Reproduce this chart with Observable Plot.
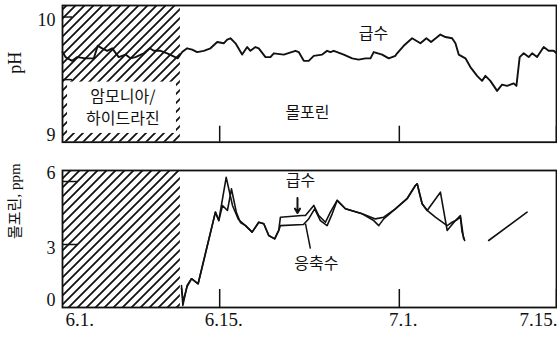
<!DOCTYPE html>
<html><head><meta charset="utf-8">
<script src="https://cdn.jsdelivr.net/npm/d3@7"></script>
<script src="https://cdn.jsdelivr.net/npm/@observablehq/plot@0.6"></script>
<style>
body{margin:0;background:#fff;}
#chart svg{display:block;overflow:visible;}
</style></head><body><div id="chart"></div>
<script>
// ---- data ----
const xTickDays = [0, 14, 30, 44];
const xTickLabels = ["6.1.", "6.15.", "7.1.", "7.15."];
const phTicks = [9, 10];
const phInnerTicks = [9.5, 10];
const ppmTicks = [0, 3, 6];
const ppmInnerTicks = [3, 6];
const treatmentStart = 0, treatmentEnd = 10.5; // ammonia/hydrazine period (days after 6.1.)

const phDays = [0,0.27,0.86,1.31,2.05,2.79,3.14,3.54,3.98,4.43,5.01,5.61,6.06,6.5,7.24,7.77,8.13,8.73,9.32,10.27,10.66,11.1,11.55,11.99,12.58,13.18,13.78,14.36,14.67,14.96,15.41,16,16.45,16.74,17.19,17.48,18.08,18.52,18.82,19.71,20.75,21.04,21.49,21.93,22.38,23.13,23.57,23.86,24.16,24.46,25.05,25.8,26.38,26.98,27.43,27.72,28.47,29.06,29.65,29.8,30.39,31.14,31.88,32.41,32.83,33.66,34.11,34.7,35,35.29,35.89,36.33,36.93,37.37,37.67,38.11,38.71,39.15,39.6,40.19,40.43,40.72,41.08,41.52,41.83,42.27,42.86,43.3,43.75,44];
const phValues = [9.72,9.68,9.65,9.68,9.67,9.67,9.77,9.75,9.73,9.75,9.68,9.70,9.67,9.68,9.71,9.75,9.73,9.73,9.71,9.67,9.72,9.75,9.74,9.72,9.73,9.75,9.80,9.79,9.82,9.83,9.79,9.70,9.76,9.73,9.76,9.75,9.68,9.68,9.71,9.70,9.73,9.72,9.65,9.65,9.69,9.70,9.73,9.72,9.73,9.72,9.70,9.67,9.66,9.67,9.67,9.72,9.70,9.67,9.69,9.71,9.77,9.83,9.79,9.83,9.80,9.86,9.84,9.83,9.79,9.70,9.67,9.60,9.53,9.49,9.53,9.49,9.41,9.46,9.45,9.47,9.45,9.68,9.71,9.68,9.71,9.68,9.76,9.73,9.73,9.71];

const feedDays = [10.6,10.72,11.1,11.49,12.08,13.62,13.92,14.58,15.14,15.67,16.3,16.89,17.48,17.93,18.37,18.9,19.26,19.41,21.34,21.64,22.38,22.82,23.42,23.86,24.46,25.2,26.69,27.87,28.61,29.65,30.69,31.43,31.59,32.03,32.48,33.66,34.26,35.0,35.44,35.73,36.8,37.96,41.38];
const feedValues = [1.05,0.1,1.05,1.37,1.13,4.54,4.14,6.2,4.86,4.19,3.9,3.59,4.06,3.99,3.43,3.27,3.67,4.3,4.38,4.38,4.86,4.38,4.06,4.54,5.1,4.7,4.46,4.22,4.3,4.7,5.18,5.81,5.89,4.94,4.62,5.49,3.67,4.14,4.38,3.27,NaN,3.19,4.54];

const condDays = [10.6,10.75,11.1,11.49,12.08,13.62,13.92,14.25,14.69,15.05,15.49,15.85,16.3,16.89,17.48,17.93,18.37,18.9,19.26,19.41,21.46,21.9,22.46,22.97,23.57,24.02,24.46,25.2,26.69,27.72,28.17,28.61,29.65,30.69,31.43,31.59,32.03,32.48,33.21,34.26,34.7,35.15,35.44,35.59,35.82];
const condValues = [0.9,0.3,1.0,1.37,1.13,4.54,4.14,4.86,4.62,5.65,4.52,4.05,3.9,3.59,4.06,3.99,3.43,3.27,3.67,3.9,3.95,4.2,4.7,4.14,3.9,4.46,5.1,4.7,4.46,4.14,3.9,4.22,4.7,5.18,5.81,5.89,4.94,4.62,4.3,3.9,4.06,4.18,4.3,3.59,3.19];

// ---- tables ----
const ph = phDays.map((d, i) => ({day: d, v: phValues[i]}));
const feed = feedDays.map((d, i) => ({day: d, v: feedValues[i]}));
const cond = condDays.map((d, i) => ({day: d, v: condValues[i]}));
const xTicks = xTickDays.map((d, i) => ({day: d, label: xTickLabels[i]}));

// ---- styles ----
const W = 557, ML = 62, MR = 1;
const serif = "'Liberation Serif', 'DejaVu Serif', serif";
const kor = "'Noto Sans CJK KR', sans-serif";
const mixed = "'Liberation Serif', 'Noto Sans CJK KR', serif";
const ink = "#111";

function hatchDefs(id) {
  return () => {
    const ns = "http://www.w3.org/2000/svg";
    const defs = document.createElementNS(ns, "defs");
    const p = document.createElementNS(ns, "pattern");
    const s = 9;
    p.setAttribute("id", id);
    p.setAttribute("patternUnits", "userSpaceOnUse");
    p.setAttribute("width", s); p.setAttribute("height", s);
    const path = document.createElementNS(ns, "path");
    path.setAttribute("d", `M-2,2 L2,-2 M0,${s} L${s},0 M${s-2},${s+2} L${s+2},${s-2}`);
    path.setAttribute("stroke", ink); path.setAttribute("stroke-width", 1.8);
    p.appendChild(path); defs.appendChild(p);
    return defs;
  };
}

function yLabels(ticks, offsets) {
  return ticks.map(t => Plot.text([t], {
    y: d => d, text: d => String(d), frameAnchor: "left", textAnchor: "end",
    dx: -7, dy: offsets[t] || 0, fontFamily: serif, fontSize: 18, fill: ink
  }));
}

// ---- top panel (pH) ----
const phMax = 10.092;
const topH = 160, topMT = 5, topMB = 18.3;
const topInnerH = topH - topMT - topMB, innerW = W - ML - MR;
const topPlot = Plot.plot({
  width: W, height: topH, marginLeft: ML, marginRight: MR, marginTop: topMT, marginBottom: topMB,
  x: {domain: [0, 44], axis: null},
  y: {domain: [9, phMax], axis: null},
  marks: [
    hatchDefs("hatchTop"),
    Plot.rect([0], {x1: treatmentStart, x2: treatmentEnd, y1: 9, y2: phMax, fill: "url(#hatchTop)"}),
    Plot.rect([0], {x1: 0.45, x2: 10.15, y1: 9.07, y2: 9.48, fill: "white"}),
    Plot.text(["암모니아/"], {x: 5.2, y: 9.362, text: d => d,
      fontFamily: kor, fontSize: 16, fill: ink, dx: 2, ariaLabel: "ls4"}),
    Plot.text(["하이드라진"], {x: 5.2, y: 9.184, text: d => d,
      fontFamily: kor, fontSize: 16, fill: ink, dx: 2, ariaLabel: "ls4"}),
    Plot.text(["급수"], {x: 27.43, y: 9.868, text: d => d, fontFamily: kor, fontSize: 16, fill: ink, dx: 3, ariaLabel: "ls6"}),
    Plot.text(["몰포린"], {x: 21.64, y: 9.236, text: d => d, fontFamily: kor, fontSize: 16, fill: ink, dx: 2, ariaLabel: "ls4"}),
    Plot.line(ph, {x: "day", y: "v", stroke: ink, strokeWidth: 1.9, curve: "linear"}),
    Plot.ruleX(xTickDays.slice(1), {x: d => d, insetTop: topInnerH - 16, stroke: ink, strokeWidth: 1.5}),
    Plot.ruleY(phInnerTicks, {y: d => d, insetRight: innerW - 10, stroke: ink, strokeWidth: 1.5}),
    Plot.frame({stroke: ink, strokeWidth: 1.8}),
    ...yLabels(phTicks, {10: 3.5, 9: -6.5}),
    Plot.text(["pH"], {frameAnchor: "left", dx: -47, rotate: -90, text: d => d, fontFamily: serif, fontSize: 18, fill: ink})
  ]
});

// ---- bottom panel (morpholine, ppm) ----
const ppmMax = 6.524;
const botH = 182, botMT = 10, botMB = 35;
const botInnerH = botH - botMT - botMB;
const botPlot = Plot.plot({
  width: W, height: botH, marginLeft: ML, marginRight: MR, marginTop: botMT, marginBottom: botMB,
  x: {domain: [0, 44], axis: null},
  y: {domain: [0, ppmMax], axis: null},
  marks: [
    hatchDefs("hatchBot"),
    Plot.rect([0], {x1: treatmentStart, x2: treatmentEnd, y1: 0, y2: ppmMax, fill: "url(#hatchBot)"}),
    Plot.line(feed, {x: "day", y: "v", stroke: ink, strokeWidth: 1.6}),
    Plot.line(cond, {x: "day", y: "v", stroke: ink, strokeWidth: 1.6}),
    Plot.text(["급수"], {x: 20.93, y: 6.05, text: d => d, fontFamily: kor, fontSize: 16, fill: ink, dx: 3, ariaLabel: "ls6"}),
    Plot.arrow([0], {x1: 20.93, y1: 5.22, x2: 20.93, y2: 4.5, stroke: ink, strokeWidth: 2, headLength: 5}),
    Plot.text(["응축수"], {x: 22.44, y: 2.1, text: d => d, fontFamily: kor, fontSize: 16, fill: ink, dx: 2, ariaLabel: "ls4"}),
    Plot.link([0], {x1: 21.64, y1: 3.99, x2: 22.08, y2: 2.8, stroke: ink, strokeWidth: 1.5}),
    Plot.ruleX(xTickDays.slice(1), {x: d => d, insetTop: botInnerH - 18, stroke: ink, strokeWidth: 1.5}),
    Plot.ruleY(ppmInnerTicks, {y: d => d, insetRight: innerW - 15, stroke: ink, strokeWidth: 1.5}),
    Plot.frame({stroke: ink, strokeWidth: 1.8}),
    ...yLabels(ppmTicks, {6: -8, 3: 4, 0: -7}),
    Plot.text(["몰포린, ppm"], {frameAnchor: "left", dx: -47, rotate: -90, text: d => d, fontFamily: mixed, fontSize: 15, fill: ink, ariaLabel: "ls1"}),
    Plot.text(xTicks.slice(0, 1), {x: "day", text: "label", frameAnchor: "bottom", dy: 18, dx: 3, textAnchor: "start", fontFamily: serif, fontSize: 19, fill: ink, ariaLabel: "lsx"}),
    Plot.text(xTicks.slice(1, -1), {x: "day", text: "label", frameAnchor: "bottom", dy: 18, dx: 4, textAnchor: "middle", fontFamily: serif, fontSize: 19, fill: ink, ariaLabel: "lsx"}),
    Plot.text(xTicks.slice(-1), {x: "day", text: "label", frameAnchor: "bottom", dy: 18, dx: 1, textAnchor: "end", fontFamily: serif, fontSize: 19, fill: ink, ariaLabel: "lsx"})
  ]
});

const chart = document.getElementById("chart");
chart.appendChild(topPlot);
chart.appendChild(botPlot);
for (const svg of [topPlot, botPlot]) {
  const s = d3.select(svg);
  s.selectAll('g[aria-label="ls4"] text').style("letter-spacing", "4px");
  s.selectAll('g[aria-label="ls6"] text').style("letter-spacing", "6px");
  s.selectAll('g[aria-label="ls1"] text').style("letter-spacing", "1px");
  s.selectAll('g[aria-label="lsx"] text').style("letter-spacing", "2px");
}
</script></body></html>
